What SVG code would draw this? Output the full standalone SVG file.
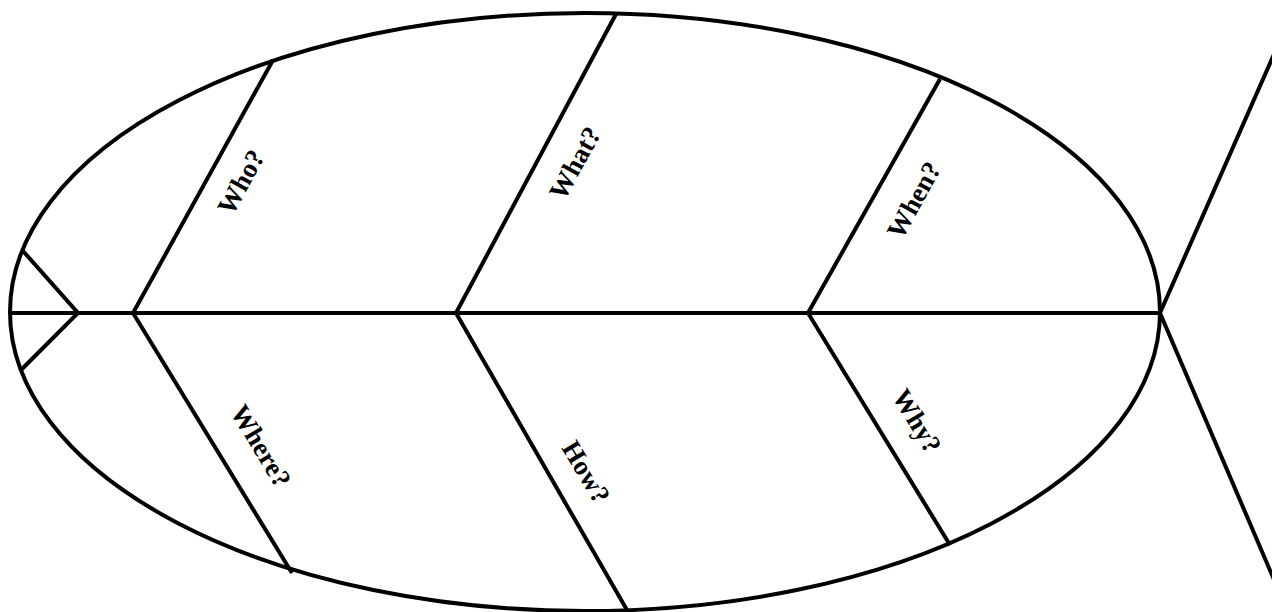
<svg xmlns="http://www.w3.org/2000/svg" width="1272" height="612" viewBox="0 0 1272 612">
<style>
.l{stroke:#000;stroke-width:4;fill:none;stroke-linecap:butt;stroke-linejoin:miter}
.t{font-family:"Liberation Serif","Times New Roman",serif;font-weight:bold;font-size:27px;fill:#000;text-anchor:middle;dominant-baseline:central}
</style>
<rect width="1272" height="612" fill="#fff"/>
<g id="body">
<ellipse class="l" cx="585" cy="312" rx="575" ry="299"/>
</g>
<g id="connectors">
<line class="l" x1="10" y1="313" x2="1160" y2="313"/>
<polyline class="l" points="23,251 78,313 22,369"/>
<polyline class="l" points="1275,52 1160,313 1275,582"/>
<line class="l" x1="133" y1="313" x2="273" y2="60"/>
<line class="l" x1="456" y1="313" x2="616" y2="14"/>
<line class="l" x1="808" y1="313" x2="940" y2="79"/>
<line class="l" x1="133" y1="313" x2="292" y2="573"/>
<line class="l" x1="456" y1="313" x2="627" y2="610"/>
<line class="l" x1="808" y1="313" x2="950" y2="545"/>
</g>
<g id="who"><text class="t" transform="translate(241,182) rotate(-61)">Who?</text></g>
<g id="what"><text class="t" transform="translate(575,163) rotate(-61)">What?</text></g>
<g id="when"><text class="t" transform="translate(914,200) rotate(-61)">When?</text></g>
<g id="where"><text class="t" transform="translate(261,446) rotate(59)">Where?</text></g>
<g id="how"><text class="t" transform="translate(586,472) rotate(59)">How?</text></g>
<g id="why"><text class="t" transform="translate(917,421) rotate(59)">Why?</text></g>
</svg>
